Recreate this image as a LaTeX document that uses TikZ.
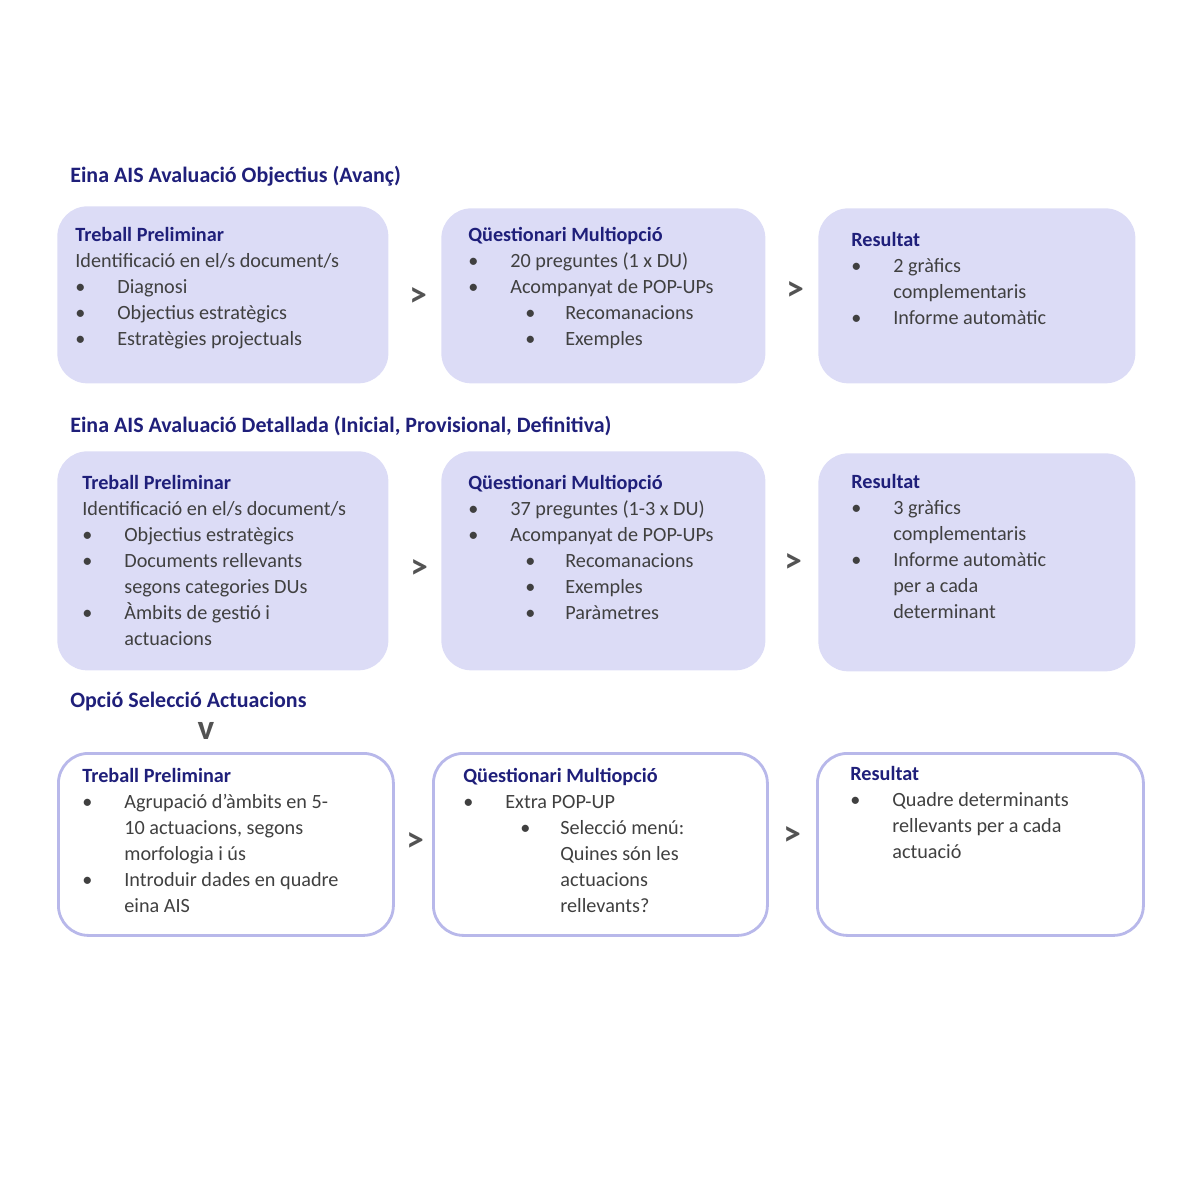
\documentclass[tikz,border=0pt]{standalone}
\usepackage{fontspec}
\setmainfont{Carlito}
\usetikzlibrary{positioning}
\definecolor{navy}{HTML}{1F1F7A}
\definecolor{lav}{HTML}{DCDCF6}
\definecolor{lavline}{HTML}{B8B8EA}
\definecolor{txtgray}{HTML}{404040}
\newcommand{\bi}{\makebox[0.84cm][l]{\textbullet}}
\newcommand{\bii}{\hspace{1.14cm}\makebox[0.8cm][l]{\textbullet}}
\newcommand{\hd}[1]{{\color{navy}\bfseries #1}}
\begin{document}
\begin{tikzpicture}[
        every node/.style={font=\fontsize{11.5}{14.8}\selectfont},
        box/.style={rectangle, rounded corners=0.6cm, fill=lav, anchor=north west},
        obox/.style={rectangle, rounded corners=0.6cm, draw=lavline, line width=1.6pt, fill=white, anchor=north west},
        txt/.style={anchor=north west, align=left, inner sep=0pt, text=txtgray},
        title/.style={anchor=west, inner sep=0pt, text=navy, font=\fontsize{12.5}{15}\selectfont\bfseries},
        gt/.style={text=txtgray!90, font=\fontsize{20}{20}\selectfont\bfseries}
    ]
        \useasboundingbox (0,0) rectangle (24,-24);
        % row 1
        \node[title] (t1) at (1.4,-3.52) {Eina AIS Avaluació Objectius (Avanç)};
        \node[box, minimum width=6.62cm, minimum height=3.54cm] (a1) at (1.14,-4.12) {};
        \node[box, minimum width=6.48cm, minimum height=3.5cm] (b1) at (8.82,-4.16) {};
        \node[box, minimum width=6.34cm, minimum height=3.5cm] (c1) at (16.36,-4.16) {};
        \node[txt] at ([xshift=0.36cm,yshift=-0.42cm]a1.north west)
            {\hd{Treball Preliminar}\\Identificació en el/s document/s\\\bi Diagnosi\\\bi Objectius estratègics\\\bi Estratègies projectuals};
        \node[txt] at ([xshift=0.54cm,yshift=-0.38cm]b1.north west)
            {\hd{Qüestionari Multiopció}\\\bi 20 preguntes (1 x DU)\\\bi Acompanyat de POP-UPs\\\bii Recomanacions\\\bii Exemples};
        \node[txt] at ([xshift=0.66cm,yshift=-0.48cm]c1.north west)
            {\hd{Resultat}\\\bi 2 gràfics\\\hspace{0.84cm}complementaris\\\bi Informe automàtic};
        \node[gt] (g1) at (8.36,-5.94) {>};
        \node[gt] (g2) at (15.9,-5.82) {>};
        % row 2
        \node[title] (t2) at (1.4,-8.52) {Eina AIS Avaluació Detallada (Inicial, Provisional, Definitiva)};
        \node[box, minimum width=6.62cm, minimum height=4.38cm] (a2) at (1.14,-9.02) {};
        \node[box, minimum width=6.48cm, minimum height=4.38cm] (b2) at (8.82,-9.02) {};
        \node[box, minimum width=6.34cm, minimum height=4.36cm] (c2) at (16.36,-9.06) {};
        \node[txt] at ([xshift=0.5cm,yshift=-0.48cm]a2.north west)
            {\hd{Treball Preliminar}\\Identificació en el/s document/s\\\bi Objectius estratègics\\\bi Documents rellevants\\\hspace{0.84cm}segons categories DUs\\\bi Àmbits de gestió i\\\hspace{0.84cm}actuacions};
        \node[txt] at ([xshift=0.54cm,yshift=-0.48cm]b2.north west)
            {\hd{Qüestionari Multiopció}\\\bi 37 preguntes (1-3 x DU)\\\bi Acompanyat de POP-UPs\\\bii Recomanacions\\\bii Exemples\\\bii Paràmetres};
        \node[txt] at ([xshift=0.66cm,yshift=-0.42cm]c2.north west)
            {\hd{Resultat}\\\bi 3 gràfics\\\hspace{0.84cm}complementaris\\\bi Informe automàtic\\\hspace{0.84cm}per a cada\\\hspace{0.84cm}determinant};
        \node[gt] (g3) at (8.38,-11.38) {>};
        \node[gt] (g4) at (15.86,-11.26) {>};
        % row 3
        \node[title] (t3) at (1.4,-14.04) {Opció Selecció Actuacions};
        \node[gt] (v1) at (4.12,-14.62) {v};
        \node[obox, minimum width=6.7cm, minimum height=3.64cm] (a3) at (1.14,-15.04) {};
        \node[obox, minimum width=6.68cm, minimum height=3.64cm] (b3) at (8.64,-15.04) {};
        \node[obox, minimum width=6.52cm, minimum height=3.64cm] (c3) at (16.32,-15.04) {};
        \node[txt] at ([xshift=0.5cm,yshift=-0.32cm]a3.north west)
            {\hd{Treball Preliminar}\\\bi Agrupació d’àmbits en 5-\\\hspace{0.84cm}10 actuacions, segons\\\hspace{0.84cm}morfologia i ús\\\bi Introduir dades en quadre\\\hspace{0.84cm}eina AIS};
        \node[txt] at ([xshift=0.62cm,yshift=-0.32cm]b3.north west)
            {\hd{Qüestionari Multiopció}\\\bi Extra POP-UP\\\bii Selecció menú:\\\hspace{1.94cm}Quines són les\\\hspace{1.94cm}actuacions\\\hspace{1.94cm}rellevants?};
        \node[txt] at ([xshift=0.68cm,yshift=-0.28cm]c3.north west)
            {\hd{Resultat}\\\bi Quadre determinants\\\hspace{0.84cm}rellevants per a cada\\\hspace{0.84cm}actuació};
        \node[gt] (g5) at (8.3,-16.84) {>};
        \node[gt] (g6) at (15.84,-16.72) {>};
    \end{tikzpicture}
\end{document}
